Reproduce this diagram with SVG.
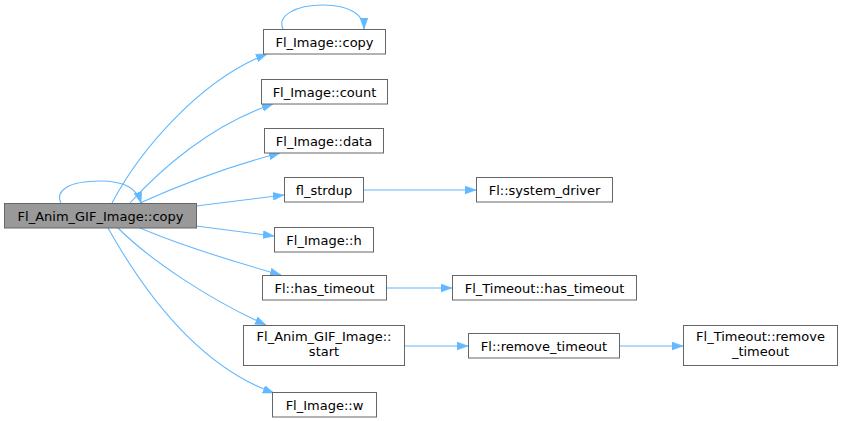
<svg xmlns="http://www.w3.org/2000/svg" width="843" height="421" viewBox="0 0 843 421">
<style>
.n rect{fill:#ffffff;stroke:#666666;stroke-width:1}
.n.main rect{fill:#999999}
.n text{font-family:"DejaVu Sans",sans-serif;font-size:13px;fill:#000000;text-anchor:middle}
.e path{fill:none;stroke:#63b8ff;stroke-width:1.1;marker-end:url(#ah)}
</style>
<defs>
<marker id="ah" markerUnits="userSpaceOnUse" markerWidth="12" markerHeight="9" refX="11" refY="4" orient="auto">
<path d="M0,0 L11,4 L0,8 z" fill="#63b8ff" stroke="#63b8ff" stroke-width="0.5"/>
</marker>
</defs>
<rect width="843" height="421" fill="#ffffff"/>
<g id="edges" class="e">
<path d="M61,203 C55,191 68,181 100,181 C126,181 137,189 141,203"/>
<path d="M283,29 C277,16 295,5 323,5 C350,5 364,15 364,29"/>
<path d="M112,203 C140,150 200,80 267,54"/>
<path d="M130,203 C160,170 210,125 273,104"/>
<path d="M140,203 C180,185 230,166 280,153"/>
<path d="M196,206 L284,195"/>
<path d="M196,226 L274,236"/>
<path d="M140,228 C180,245 235,262 281,275"/>
<path d="M118,228 C150,260 210,300 266,325"/>
<path d="M108,228 C140,285 195,365 274,393"/>
<path d="M363,190 L476,190"/>
<path d="M386,288 L452,288"/>
<path d="M404,346 L468,346"/>
<path d="M619,346 L683,346"/>
</g>
<g id="n_main" class="n main"><rect x="4.5" y="203.5" width="192" height="24.5"/><text x="100.5" y="220.5">Fl_Anim_GIF_Image::copy</text></g>
<g id="n_copy" class="n"><rect x="263.5" y="29.5" width="122" height="24.5"/><text x="324.5" y="46.5">Fl_Image::copy</text></g>
<g id="n_count" class="n"><rect x="261.5" y="79.5" width="126" height="24.5"/><text x="324.5" y="96.5">Fl_Image::count</text></g>
<g id="n_data" class="n"><rect x="264.5" y="128.5" width="119" height="24.5"/><text x="324" y="145.5">Fl_Image::data</text></g>
<g id="n_strdup" class="n"><rect x="284.5" y="177.5" width="79" height="24.5"/><text x="324" y="194.5">fl_strdup</text></g>
<g id="n_h" class="n"><rect x="274.5" y="227.5" width="99" height="24.5"/><text x="324" y="244.5">Fl_Image::h</text></g>
<g id="n_has" class="n"><rect x="262.5" y="275.5" width="124" height="24.5"/><text x="324.5" y="292.5">Fl::has_timeout</text></g>
<g id="n_start" class="n"><rect x="243.5" y="325.5" width="161" height="40"/><text x="324" y="341">Fl_Anim_GIF_Image::</text><text x="324" y="356">start</text></g>
<g id="n_w" class="n"><rect x="272.5" y="392.5" width="104" height="24.5"/><text x="324.5" y="409.5">Fl_Image::w</text></g>
<g id="n_sysdrv" class="n"><rect x="476.5" y="177.5" width="136" height="24.5"/><text x="544.5" y="194.5">Fl::system_driver</text></g>
<g id="n_thas" class="n"><rect x="452.5" y="275.5" width="184" height="24.5"/><text x="544.5" y="292.5">Fl_Timeout::has_timeout</text></g>
<g id="n_rem" class="n"><rect x="468.5" y="333.5" width="151" height="24.5"/><text x="544" y="350.5">Fl::remove_timeout</text></g>
<g id="n_trem" class="n"><rect x="683.5" y="325.5" width="154" height="40"/><text x="760.5" y="341">Fl_Timeout::remove</text><text x="760.5" y="356">_timeout</text></g>
</svg>
